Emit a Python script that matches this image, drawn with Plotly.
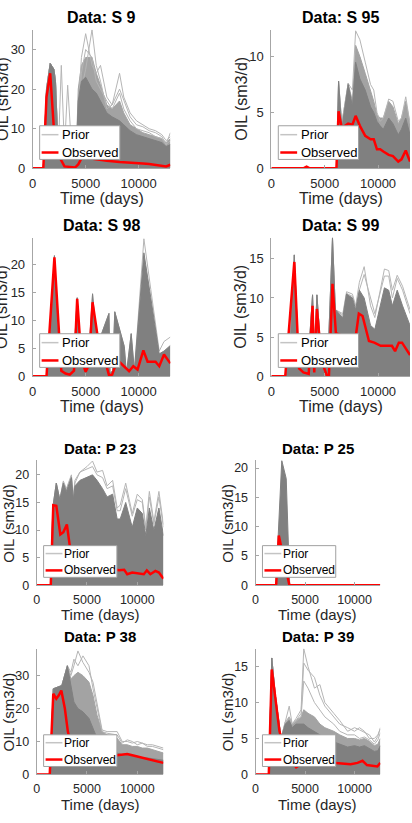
import plotly.graph_objects as go

FONT = "Liberation Sans, Arial, sans-serif"
W, H = 412, 823

TITLES = ["Data: S 9", "Data: S 95", "Data: S 98", "Data: S 99",
          "Data: P 23", "Data: P 25", "Data: P 38", "Data: P 39"]
X_TICKS = [0, 5000, 10000]
X_TICKTEXT = ["0", "5000", "10000"]
X_LABEL = "Time (days)"
Y_LABEL = "OIL (sm3/d)"
LEGEND_LABELS = ["Prior", "Observed"]

# ---------------- S 9 ----------------
S9_T = [0, 1000, 1300, 1650, 2000, 2150, 2400, 2700, 3000, 3300, 3700, 4100, 4300, 4600, 5000,
        5600, 6000, 6400, 7000, 7500, 8200, 8600, 9200, 9800, 10400, 11000, 11600, 12200, 12600, 13000]
S9_DENSE = [0, 0, 20, 26.5, 25, 22, 5, 4, 3, 5, 6, 3, 17, 22, 23, 20, 19, 17, 14, 13, 12, 11, 9.5, 8.5,
            8, 7.5, 7, 6.5, 5.5, 6]
S9_MID = [0, 0, 20, 26.5, 25, 22, 5, 4, 3, 5, 6, 3, 20, 26, 28, 28, 24, 21, 16, 15, 17, 14, 11, 10, 9,
          8.5, 8, 7.5, 6.5, 7.5]
S9_HI1 = [0, 0, 20, 26.5, 25, 22, 5, 4, 3, 5, 6, 3, 10, 20, 25, 35, 26, 22, 15, 16, 20, 17, 13, 11,
          10.5, 9.5, 9, 8, 6, 9]
S9_HI2 = [0, 0, 20, 26.5, 25, 22, 5, 4, 3, 5, 6, 3, 15, 28, 34, 26, 24, 26, 18, 16, 24, 18, 14, 12,
          11, 10, 9.5, 8.5, 7, 8]
S9_HI3 = [0, 0, 20, 26.5, 25, 22, 3, 26, 5, 21, 4, 2, 12, 24, 30, 28, 22, 20, 17, 15, 19, 15, 12, 10,
          9.5, 9, 8, 7.5, 6, 7]
S9_OBS_T = [0, 1000, 1300, 1650, 2000, 2500, 3000, 3500, 4000, 4300, 4800, 5500, 6300, 7000, 8200,
            9000, 10400, 11000, 12200, 12600, 13000]
S9_OBS = [0, 0, 18, 24, 10, 3, 0.5, 0.3, 0.2, 1, 3.5, 2.5, 2.1, 1.9, 1.6, 1.4, 1.2, 1.1, 0.6, 0.5, 0.9]

# ---------------- S 95 ----------------
S95_T = [0, 3000, 3300, 3600, 6100, 6300, 6600, 7200, 7600, 7900, 8300, 8800, 9300, 9600, 9900,
         10200, 10500, 11000, 11400, 11900, 12200, 12600, 13000]
S95_DENSE = [0, 0, 0, 0, 0, 7.8, 3.5, 7.5, 5.5, 9.5, 8, 7, 5.5, 5, 4.2, 3.8, 3.5, 4.5, 4, 3, 3.5, 4.5, 3]
S95_MID = [0, 0, 0, 0, 0, 7.8, 4, 7.6, 6, 11, 10, 8.5, 7, 6, 4.8, 4.5, 4.5, 6, 5.5, 4, 4.5, 6, 4]
S95_HI1 = [0, 0, 0, 0, 0, 7.8, 4, 7.6, 7, 12.3, 11.5, 9.5, 7.5, 7, 5, 4.2, 4.5, 6.2, 6, 4.2, 4.5, 6.4, 4]
S95_OBS = [0, 0, 0.15, 0, 0, 5.1, 3.6, 4.0, 3.9, 4.7, 3.8, 2.9, 2.6, 2.6, 1.7, 1.7, 1.5, 1.2, 1.1, 0.6,
           0.8, 1.6, 0.6]

# ---------------- S 98 ----------------
S98_T = [0, 1300, 1700, 2050, 2400, 2700, 3500, 3900, 4200, 4500, 5000, 5300, 5650, 6000, 6200, 7200,
         7300, 7550, 7750, 8650, 8850, 9300, 9600, 10500, 11150, 11600, 11950, 12400, 13000]
S98_DENSE = [0, 0, 8, 21.5, 5, 3, 2, 4, 14, 4, 3, 4, 14.7, 7, 6, 11.2, 0.5, 1, 11.5, 5.3, 0.5, 7.6, 1,
             22, 14, 8, 4, 4.5, 5.5]
S98_HI1 = [0, 0, 8, 21.5, 5, 3, 2, 4, 14, 4, 3, 4, 14.7, 7, 6, 11.2, 0.5, 1, 11.5, 5.3, 0.5, 7.6, 1,
           24.5, 15.5, 9.5, 4.5, 6.2, 7]
S98_OBS_T = [0, 1300, 2050, 2700, 3100, 3500, 3900, 4200, 4600, 5000, 5300, 5650, 6300, 6800, 7200,
             7500, 8000, 8600, 9100, 9500, 9900, 10450, 10850, 11600, 11950, 12400, 13000]
S98_OBS = [0, 0, 21.2, 1, 0.5, 0.3, 1, 13.8, 3, 0.8, 2, 13.2, 5, 3, 0.2, 0.3, 2.9, 1.8, 0.9, 1.8, 1.2,
           4.6, 2.6, 2.6, 1.8, 3.9, 2.3]

# ---------------- S 99 ----------------
S99_T = [0, 1300, 1800, 2150, 2500, 3000, 3500, 3860, 4050, 4270, 4600, 5300, 5730, 6000, 6700, 7050,
         7600, 7900, 8250, 8700, 9300, 9700, 10600, 11000, 11350, 11800, 12300, 13000]
S99_DENSE = [0, 0, 5, 15.5, 4, 2, 3, 10.4, 3, 10.4, 4, 2, 17.7, 8.5, 7.5, 10.5, 10, 8.5, 11, 10, 6.5, 6,
             11.3, 11, 9, 11, 9, 6.5]
S99_HI1 = [0, 0, 5, 15.5, 4, 2, 3, 10.4, 3, 10.4, 4, 2, 17.7, 8.5, 8, 10.8, 10.5, 9, 12, 14, 9, 7.5,
           13.7, 13.5, 11, 12.9, 11.5, 8.5]
S99_HI2 = [0, 0, 5, 15.5, 4, 2, 3, 10.4, 3, 10.4, 4, 2, 17.7, 8.5, 7.8, 10.6, 10.2, 8.8, 11, 13, 10, 8,
           12.8, 12.8, 10, 12.5, 11, 8]
S99_OBS_T = [0, 1300, 2150, 2600, 3000, 3500, 3860, 4020, 4270, 4700, 5200, 5400, 5730, 6050, 7000,
             7900, 8200, 8550, 9150, 9650, 10250, 11300, 11600, 11950, 12250, 12900, 13000]
S99_OBS = [0, 0, 14.6, 1, 0.5, 0.3, 9.0, 0.5, 8.6, 2, 0.1, 0.1, 11.8, 5.5, 5, 5, 8.0, 7.7, 4.5, 4.3,
           3.9, 3.9, 3.2, 4.3, 4.3, 2.9, 2.7]

# ---------------- P 23 ----------------
P23_T = [0, 1400, 1600, 1950, 2300, 2650, 2950, 3450, 3650, 3800, 4300, 5000, 5550, 6000, 6550, 7000,
         7550, 8000, 8300, 8850, 9500, 10000, 10500, 10850, 11200, 11650, 12150, 12600]
P23_DENSE = [0, 0, 14, 18.5, 15.5, 18.5, 17, 19.5, 15.5, 18, 19, 19.5, 20, 19, 17.5, 16, 16.5, 12, 12,
             15, 10.5, 14, 13, 9, 14, 10, 14, 9]
P23_HI1 = [0, 0, 14, 18.5, 15.5, 18.9, 17.5, 20, 16, 19, 20.5, 21.5, 22.5, 20.5, 20.8, 18, 19, 14,
           14.5, 18.5, 13, 16.5, 15.5, 10.5, 17, 11.5, 17, 11]
P23_HI2 = [0, 0, 14, 18.5, 15.5, 18.7, 17.2, 19.8, 15.8, 18.5, 20.5, 21, 21.5, 20, 19.5, 17.5, 18,
           13.5, 13.5, 17.5, 12.5, 15.5, 15, 10, 16, 11, 16, 10.5]
P23_OBS_T = [0, 1400, 1650, 1950, 2350, 2650, 3000, 3450, 4000, 5000, 6000, 7000, 7850, 8200, 8700,
             9000, 9500, 10150, 10650, 10950, 11300, 11800, 12150, 12600]
P23_OBS = [0, 0, 14.5, 14.4, 9.2, 9.6, 11, 5, 3.5, 3, 3, 3, 2.8, 2.7, 2.8, 2.0, 2.3, 2.1, 2.0, 2.7, 2.0,
           2.6, 2.3, 1.2]

# ---------------- P 25 ----------------
P25_T = [0, 2050, 2650, 3100, 3450, 12600]
P25_DENSE = [0, 0, 21.3, 18.2, 0, 0]
P25_OBS_T = [0, 2080, 2350, 2600, 3000, 3420, 12600]
P25_OBS = [0, 0, 8.5, 6.5, 3, 0, 0]

# ---------------- P 38 ----------------
P38_T = [0, 1300, 1650, 2000, 2500, 3050, 3400, 3700, 4100, 4600, 5200, 5600, 6000, 6500, 7000, 8000,
         8500, 9000, 9500, 10000, 10500, 11000, 11500, 12000, 12600]
P38_DENSE = [0, 0, 26, 26.5, 27, 33, 27, 22, 20, 19, 17, 14, 11, 8, 7, 6.5, 6, 6, 5.5, 5.5, 5, 5, 4.8,
             4.5, 4.3]
P38_MID = [0, 0, 26, 26.5, 27, 33, 29, 30, 31, 30, 28, 24, 18, 13, 12, 11, 9, 9, 8.5, 8.5, 8, 8, 7.5,
           7, 6.5]
P38_HI1 = [0, 0, 26, 26.5, 27, 33, 30, 33, 37.5, 34, 31, 28, 22, 13.5, 13, 13, 10, 10, 9.5, 10, 9.5,
           9, 9, 8.5, 8]
P38_HI2 = [0, 0, 26, 26.5, 27, 33, 31, 35, 33, 36, 33, 26, 20, 13, 12.5, 12, 9.5, 10.5, 10, 9, 9.5,
           8.5, 8.5, 8, 7.5]
P38_OBS_T = [0, 1300, 1650, 1950, 2200, 2450, 2800, 3100, 3500, 4500, 6000, 7500, 8000, 8500, 9000,
             9500, 10150, 10800, 11500, 12100, 12600]
P38_OBS = [0, 0, 24.5, 23, 24, 25.5, 20, 13, 8, 6, 5.5, 5.5, 5.8, 6.0, 6.2, 5.8, 5.3, 4.8, 4.2, 3.8, 3.5]

# ---------------- P 39 ----------------
P39_T = [0, 1330, 1640, 2000, 2580, 3000, 3400, 3700, 4100, 4600, 4870, 5300, 5950, 6500, 7000, 7900,
         8500, 9300, 10000, 10500, 11000, 11500, 12000, 12350, 12600]
P39_DENSE = [0, 0, 16.2, 11, 5, 7, 7.5, 6.5, 7, 7, 7, 6.5, 6, 5.5, 5, 4.5, 4.2, 3.8, 4, 3.8, 4, 3.6,
             3.2, 3.3, 4]
P39_MID = [0, 0, 16.2, 11, 5, 7, 8, 7, 7.5, 8, 9, 8.5, 8, 7, 6.5, 6, 5.5, 5, 5, 4.8, 5, 4.6, 4, 4.2, 5]
P39_HI1 = [0, 0, 16.2, 11, 5, 7.3, 9.5, 7, 7.8, 9, 17.5, 15, 12, 12.5, 10, 8.5, 7.5, 6, 6.5, 6.2, 5.8,
           5.5, 4.5, 5.3, 6.5]
P39_HI2 = [0, 0, 16.2, 11, 5, 7.3, 8, 7, 7.5, 8.5, 15.5, 14.5, 13.5, 11, 9.5, 8, 7, 6.5, 6, 6.5, 6, 5,
           5, 5.5, 6.3]
P39_HI3 = [0, 0, 16.2, 11, 5, 7.2, 7.8, 7, 7.4, 8, 13, 12, 10, 9, 8, 7, 6, 5.5, 5.5, 5, 5.2, 4.8, 4.2,
           4.8, 5.8]
P39_OBS_T = [0, 1340, 1640, 2420, 3000, 3800, 4100, 5000, 6000, 7000, 8100, 8950, 9600, 10300, 10800,
             11250, 11800, 12300, 12600]
P39_OBS = [0, 0, 14.6, 6, 3, 1.5, 1, 1.8, 1.8, 1.7, 1.6, 1.5, 1.4, 1.6, 1.9, 1.3, 1.2, 1.1, 1.6]

# axis limits / ticks
X_MAX = [13000, 13000, 13000, 13000, 12600, 12600, 12600, 12600]
Y_MAX = [35, 12.4, 24.7, 17.7, 22.6, 21.3, 38.2, 17.5]
Y_TICKS = [[0, 10, 20, 30], [0, 5, 10], [0, 5, 10, 15, 20], [0, 5, 10, 15],
           [0, 5, 10, 15, 20], [0, 5, 10, 15, 20], [0, 10, 20, 30], [0, 5, 10, 15]]

PANELS = [
    dict(t=S9_T, dense=S9_DENSE, mid=S9_MID, hi=[S9_HI1, S9_HI2, S9_HI3], ot=S9_OBS_T, obs=S9_OBS),
    dict(t=S95_T, dense=S95_DENSE, mid=S95_MID, hi=[S95_HI1], ot=S95_T, obs=S95_OBS),
    dict(t=S98_T, dense=S98_DENSE, mid=None, hi=[S98_HI1], ot=S98_OBS_T, obs=S98_OBS),
    dict(t=S99_T, dense=S99_DENSE, mid=None, hi=[S99_HI1, S99_HI2], ot=S99_OBS_T, obs=S99_OBS),
    dict(t=P23_T, dense=P23_DENSE, mid=None, hi=[P23_HI1, P23_HI2], ot=P23_OBS_T, obs=P23_OBS),
    dict(t=P25_T, dense=P25_DENSE, mid=None, hi=[], ot=P25_OBS_T, obs=P25_OBS),
    dict(t=P38_T, dense=P38_DENSE, mid=P38_MID, hi=[P38_HI1, P38_HI2], ot=P38_OBS_T, obs=P38_OBS),
    dict(t=P39_T, dense=P39_DENSE, mid=P39_MID, hi=[P39_HI1, P39_HI2, P39_HI3], ot=P39_OBS_T, obs=P39_OBS),
]

# ---------------- geometry (pixels: left, right, top, bottom) ----------------
GEOM = [(29, 168, 30, 170), (270, 410, 30, 170),
        (29, 168, 240, 380), (270, 410, 240, 380),
        (33, 161, 465, 591), (254, 380, 465, 591),
        (33, 161, 655, 782), (254, 380, 655, 782)]
BIG = dict(tick=13, title=16, label=16, leg=13, lw=81, lh=34, lgap=9, yoff=31, l1=9, l2=27, tx=21)
SMALL = dict(tick=12.5, title=15, label=15, leg=12, lw=74, lh=32, lgap=8, yoff=28, l1=8, l2=25, tx=19)

DENSE_C = "#808080"
MID_C = "#a3a3a3"
HI_C = "#b5b5b5"
OBS_C = "#ff0000"
AX_C = "#a6a6a6"
TXT_C = "#262626"


def px(x):
    return x / W


def py(y):
    return 1 - y / H


fig = go.Figure()
shapes, annotations = [], []
layout = dict(width=W, height=H, margin=dict(l=0, r=0, t=0, b=0),
              paper_bgcolor="white", plot_bgcolor="white", showlegend=False,
              font=dict(family=FONT, color=TXT_C))

for i, (p, g) in enumerate(zip(PANELS, GEOM)):
    n = i + 1
    xa, ya = ("x", "y") if n == 1 else (f"x{n}", f"y{n}")
    st = BIG if i < 4 else SMALL
    L, R, T, B = g

    if p["mid"] is not None:
        fig.add_trace(go.Scatter(x=p["t"], y=p["mid"], mode="lines", fill="tozeroy",
                                 fillcolor=MID_C, line=dict(color=MID_C, width=1),
                                 xaxis=xa, yaxis=ya, hoverinfo="skip"))
    for h in p["hi"]:
        fig.add_trace(go.Scatter(x=p["t"], y=h, mode="lines", line=dict(color=HI_C, width=1),
                                 xaxis=xa, yaxis=ya, hoverinfo="skip"))
    fig.add_trace(go.Scatter(x=p["t"], y=p["dense"], mode="lines", fill="tozeroy",
                             fillcolor=DENSE_C, line=dict(color=DENSE_C, width=1),
                             xaxis=xa, yaxis=ya, name=LEGEND_LABELS[0]))
    fig.add_trace(go.Scatter(x=p["ot"], y=p["obs"], mode="lines", line=dict(color=OBS_C, width=2.5),
                             xaxis=xa, yaxis=ya, name=LEGEND_LABELS[1]))

    common = dict(showgrid=False, zeroline=False, showline=True, linecolor=AX_C, linewidth=1,
                  ticks="inside", ticklen=3, tickcolor=AX_C,
                  tickfont=dict(family=FONT, size=st["tick"], color=TXT_C))
    layout["xaxis" if n == 1 else f"xaxis{n}"] = dict(
        common, domain=[px(L), px(R)], range=[0, X_MAX[i]], tickvals=X_TICKS,
        ticktext=X_TICKTEXT, anchor=ya, ticklabelstandoff=3)
    layout["yaxis" if n == 1 else f"yaxis{n}"] = dict(
        common, domain=[py(B), py(T)], range=[0, Y_MAX[i]], tickvals=Y_TICKS[i],
        anchor=xa, ticklabelstandoff=4)

    cx, cy = (L + R) / 2, (T + B) / 2
    annotations.append(dict(text=f"<b>{TITLES[i]}</b>", x=px(cx), y=py(T - 12), xref="paper", yref="paper",
                            showarrow=False, xanchor="center", yanchor="middle",
                            font=dict(family=FONT, size=st["title"], color="#000000")))
    annotations.append(dict(text=X_LABEL, x=px(cx), y=py(B + 30), xref="paper", yref="paper",
                            showarrow=False, xanchor="center", yanchor="middle",
                            font=dict(family=FONT, size=st["label"], color=TXT_C)))
    annotations.append(dict(text=Y_LABEL, x=px(L - st["yoff"]), y=py(cy), xref="paper", yref="paper",
                            showarrow=False, xanchor="center", yanchor="middle", textangle=-90,
                            font=dict(family=FONT, size=st["label"], color=TXT_C)))

    # legend box
    lx0 = L + 7
    ly1 = B - st["lgap"]
    ly0 = ly1 - st["lh"]
    shapes.append(dict(type="rect", xref="paper", yref="paper", x0=px(lx0), x1=px(lx0 + st["lw"]),
                       y0=py(ly1), y1=py(ly0), fillcolor="white",
                       line=dict(color="#a0a0a0", width=1), layer="above"))
    for k, (dy, col, wd) in enumerate([(st["l1"], "#c4c4c4", 1.5), (st["l2"], OBS_C, 2.5)]):
        shapes.append(dict(type="line", xref="paper", yref="paper", x0=px(lx0 + 2), x1=px(lx0 + 19),
                           y0=py(ly0 + dy), y1=py(ly0 + dy), line=dict(color=col, width=wd),
                           layer="above"))
        annotations.append(dict(text=LEGEND_LABELS[k], x=px(lx0 + st["tx"]), y=py(ly0 + dy),
                                xref="paper", yref="paper", showarrow=False, xanchor="left",
                                yanchor="middle",
                                font=dict(family=FONT, size=st["leg"], color="#000000")))

layout["shapes"] = shapes
layout["annotations"] = annotations
fig.update_layout(**layout)
fig.write_html("out.html", config={"displayModeBar": False},
               post_script="document.body.style.margin='0';document.body.style.overflow='hidden';")
